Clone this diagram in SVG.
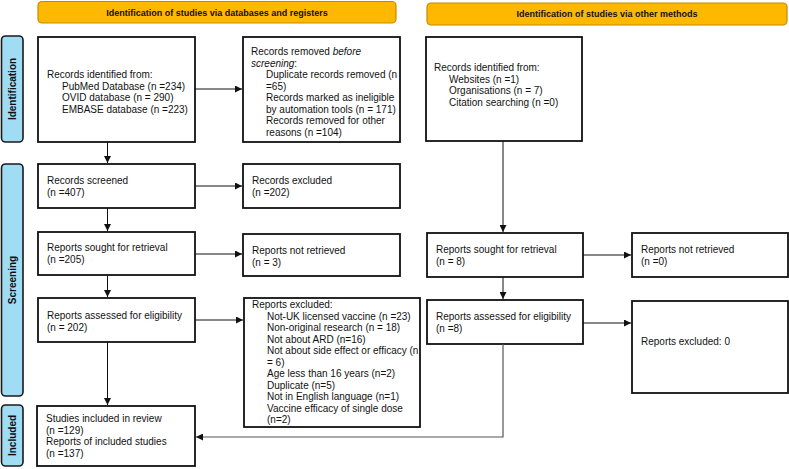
<svg xmlns="http://www.w3.org/2000/svg" width="789" height="469" viewBox="0 0 789 469">
<defs>
<style>
text{font-family:"Liberation Sans",Arial,sans-serif;font-size:10px;fill:#111}
.box{fill:#fff;stroke:#111;stroke-width:1.8}
.hdr{fill:#FFB800;stroke:#C68A00;stroke-width:1.2}
.side{fill:#A0DCF4;stroke:#1a1a1a;stroke-width:1.6}
.ht{font-weight:bold;font-size:9px;text-anchor:middle}
.st{font-weight:bold;font-size:10px;text-anchor:middle}
.c{fill:none;stroke:#111;stroke-width:1}
.g{fill:none;stroke:#555;stroke-width:1.2}
</style>
<marker id="ah" viewBox="0 0 10 10" refX="10" refY="5" markerWidth="7" markerHeight="7" markerUnits="userSpaceOnUse" orient="auto">
<path d="M0,0L10,5L0,10z" fill="#111"/>
</marker>
</defs>
<rect width="789" height="469" fill="#fff"/>

<g id="header-db"><rect class="hdr" x="38" y="1.5" width="358" height="21.5" rx="4"/><text class="ht" x="217" y="15.5">Identification of studies via databases and registers</text></g>
<g id="header-other"><rect class="hdr" x="427" y="3" width="360" height="22" rx="4"/><text class="ht" x="607" y="17">Identification of studies via other methods</text></g>

<g id="side-identification"><rect class="side" x="1.5" y="36" width="21.5" height="106" rx="4"/><text class="st" transform="translate(15.5,89) rotate(-90)">Identification</text></g>
<g id="side-screening"><rect class="side" x="1.5" y="164" width="21.5" height="232" rx="4"/><text class="st" transform="translate(15.5,280) rotate(-90)">Screening</text></g>
<g id="side-included"><rect class="side" x="1.5" y="405" width="21.5" height="61" rx="4"/><text class="st" transform="translate(15.5,435.5) rotate(-90)">Included</text></g>

<g id="records-identified"><rect class="box" x="38" y="37" width="157" height="105"/>
<text x="47" y="78">Records identified from:</text>
<text x="62" y="89.5">PubMed Database (n =234)</text>
<text x="62" y="101">OVID database (n = 290)</text>
<text x="62" y="112.5">EMBASE database (n =223)</text></g>

<g id="records-removed"><rect class="box" x="243" y="37" width="157" height="105"/>
<text x="251" y="55">Records removed <tspan font-style="italic">before</tspan></text>
<text x="251" y="66.5" font-style="italic">screening<tspan font-style="normal">:</tspan></text>
<text x="266" y="78">Duplicate records removed (n</text>
<text x="266" y="89.5">=65)</text>
<text x="266" y="101">Records marked as ineligible</text>
<text x="266" y="112.5">by automation tools (n = 171)</text>
<text x="266" y="124">Records removed for other</text>
<text x="266" y="135.5">reasons (n =104)</text></g>

<g id="other-identified"><rect class="box" x="426" y="37" width="156" height="104"/>
<text x="434" y="71">Records identified from:</text>
<text x="449" y="82.5">Websites (n =1)</text>
<text x="449" y="94">Organisations (n = 7)</text>
<text x="449" y="105.5">Citation searching (n =0)</text></g>

<g id="records-screened"><rect class="box" x="38" y="164" width="157" height="44"/>
<text x="47" y="184">Records screened</text><text x="47" y="195.5">(n =407)</text></g>

<g id="records-excluded"><rect class="box" x="243" y="164" width="157" height="44"/>
<text x="252" y="184">Records excluded</text><text x="252" y="195.5">(n =202)</text></g>

<g id="reports-sought"><rect class="box" x="38" y="232" width="157" height="43"/>
<text x="47" y="251">Reports sought for retrieval</text><text x="47" y="262.5">(n =205)</text></g>

<g id="reports-not-retrieved"><rect class="box" x="243" y="234" width="157" height="42"/>
<text x="252" y="254">Reports not retrieved</text><text x="252" y="265.5">(n = 3)</text></g>

<g id="reports-assessed"><rect class="box" x="38" y="298" width="157" height="44"/>
<text x="47" y="319">Reports assessed for eligibility</text><text x="47" y="330.5">(n = 202)</text></g>

<g id="reports-excluded"><rect class="box" x="244" y="298" width="176" height="129"/>
<text x="252" y="308">Reports excluded:</text>
<text x="267" y="319.5">Not-UK licensed vaccine (n =23)</text>
<text x="267" y="331">Non-original research (n = 18)</text>
<text x="267" y="342.5">Not about ARD (n=16)</text>
<text x="267" y="354">Not about side effect or efficacy (n</text>
<text x="267" y="365.5">= 6)</text>
<text x="267" y="377">Age less than 16 years (n=2)</text>
<text x="267" y="388.5">Duplicate (n=5)</text>
<text x="267" y="400">Not in English language (n=1)</text>
<text x="267" y="411.5">Vaccine efficacy of single dose</text>
<text x="267" y="423">(n=2)</text></g>

<g id="studies-included"><rect class="box" x="37" y="406" width="158" height="60"/>
<text x="46" y="422">Studies included in review</text>
<text x="46" y="433.5">(n =129)</text>
<text x="46" y="445">Reports of included studies</text>
<text x="46" y="456.5">(n =137)</text></g>

<g id="other-sought"><rect class="box" x="427" y="233" width="156" height="44"/>
<text x="436" y="253">Reports sought for retrieval</text><text x="436" y="264.5">(n = 8)</text></g>

<g id="other-not-retrieved"><rect class="box" x="632" y="233" width="156" height="44"/>
<text x="641" y="253">Reports not retrieved</text><text x="641" y="264.5">(n =0)</text></g>

<g id="other-assessed"><rect class="box" x="427" y="300" width="156" height="44"/>
<text x="436" y="320">Reports assessed for eligibility</text><text x="436" y="331.5">(n =8)</text></g>

<g id="other-excluded"><rect class="box" x="632" y="301" width="156" height="92"/>
<text x="641" y="345">Reports excluded: 0</text></g>

<g id="connectors">
<path class="c" d="M195,89H242" marker-end="url(#ah)"/>
<path class="c" d="M107.5,142V163" marker-end="url(#ah)"/>
<path class="c" d="M195,186H242" marker-end="url(#ah)"/>
<path class="c" d="M107.5,208V231" marker-end="url(#ah)"/>
<path class="c" d="M195,254H242" marker-end="url(#ah)"/>
<path class="c" d="M107.5,275V297" marker-end="url(#ah)"/>
<path class="c" d="M195,320H243" marker-end="url(#ah)"/>
<path class="c" d="M107.5,342V405" marker-end="url(#ah)"/>
<path class="c" d="M503,141V232" marker-end="url(#ah)"/>
<path class="c" d="M583,255H631" marker-end="url(#ah)"/>
<path class="c" d="M503,277V299" marker-end="url(#ah)"/>
<path class="c" d="M583,323H631" marker-end="url(#ah)"/>
<path class="g" d="M503,344V437H196" marker-end="url(#ah)"/>
</g>
</svg>
